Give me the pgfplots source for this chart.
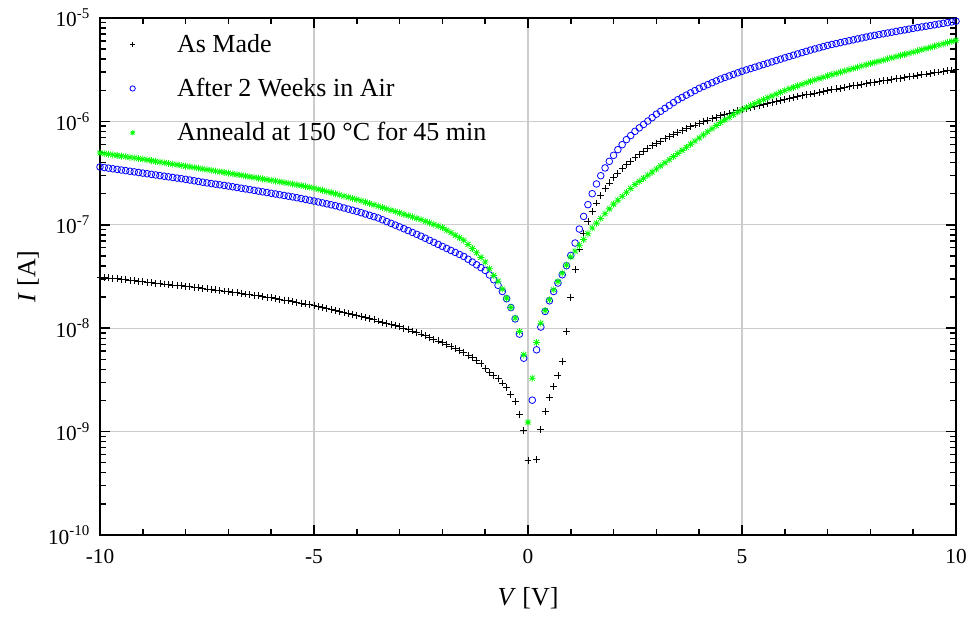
\documentclass[border=0pt]{standalone}
\usepackage{fontspec}
\setmainfont{Liberation Serif}
\usepackage{pgfplots}
\pgfplotsset{compat=1.18}
\makeatletter
\pgfdeclareplotmark{star8}{%
  \pgfpathmoveto{\pgfqpoint{-\pgfplotmarksize}{0pt}}\pgfpathlineto{\pgfqpoint{\pgfplotmarksize}{0pt}}%
  \pgfpathmoveto{\pgfqpoint{0pt}{-\pgfplotmarksize}}\pgfpathlineto{\pgfqpoint{0pt}{\pgfplotmarksize}}%
  \pgfpathmoveto{\pgfqpoint{-.707\pgfplotmarksize}{-.707\pgfplotmarksize}}\pgfpathlineto{\pgfqpoint{.707\pgfplotmarksize}{.707\pgfplotmarksize}}%
  \pgfpathmoveto{\pgfqpoint{-.707\pgfplotmarksize}{.707\pgfplotmarksize}}\pgfpathlineto{\pgfqpoint{.707\pgfplotmarksize}{-.707\pgfplotmarksize}}%
  \pgfusepathqstroke}
\makeatother
\definecolor{mygreen}{rgb}{0,1,0}
\definecolor{myblue}{rgb}{0,0,1}

\pgfplotstableread{
V I
-10.0 3.126e-8
-9.9 3.094e-8
-9.8 3.062e-8
-9.7 3.030e-8
-9.6 2.999e-8
-9.5 2.968e-8
-9.4 2.938e-8
-9.3 2.907e-8
-9.2 2.877e-8
-9.1 2.848e-8
-9.0 2.818e-8
-8.9 2.789e-8
-8.8 2.761e-8
-8.7 2.732e-8
-8.6 2.704e-8
-8.5 2.676e-8
-8.4 2.649e-8
-8.3 2.622e-8
-8.2 2.594e-8
-8.1 2.568e-8
-8.0 2.541e-8
-7.9 2.512e-8
-7.8 2.483e-8
-7.7 2.455e-8
-7.6 2.427e-8
-7.5 2.399e-8
-7.4 2.371e-8
-7.3 2.344e-8
-7.2 2.317e-8
-7.1 2.291e-8
-7.0 2.265e-8
-6.9 2.234e-8
-6.8 2.203e-8
-6.7 2.173e-8
-6.6 2.143e-8
-6.5 2.113e-8
-6.4 2.084e-8
-6.3 2.056e-8
-6.2 2.028e-8
-6.1 2.000e-8
-6.0 1.972e-8
-5.9 1.938e-8
-5.8 1.905e-8
-5.7 1.872e-8
-5.6 1.840e-8
-5.5 1.809e-8
-5.4 1.778e-8
-5.3 1.748e-8
-5.2 1.718e-8
-5.1 1.688e-8
-5.0 1.660e-8
-4.9 1.624e-8
-4.8 1.589e-8
-4.7 1.555e-8
-4.6 1.521e-8
-4.5 1.488e-8
-4.4 1.456e-8
-4.3 1.425e-8
-4.2 1.394e-8
-4.1 1.364e-8
-4.0 1.334e-8
-3.9 1.301e-8
-3.8 1.268e-8
-3.7 1.236e-8
-3.6 1.205e-8
-3.5 1.175e-8
-3.4 1.146e-8
-3.3 1.117e-8
-3.2 1.089e-8
-3.1 1.062e-8
-3.0 1.035e-8
-2.9 1.002e-8
-2.8 9.705e-9
-2.7 9.397e-9
-2.6 9.099e-9
-2.5 8.810e-9
-2.4 8.472e-9
-2.3 8.147e-9
-2.2 7.834e-9
-2.1 7.533e-9
-2.0 7.244e-9
-1.9 6.934e-9
-1.8 6.637e-9
-1.7 6.353e-9
-1.6 6.081e-9
-1.5 5.821e-9
-1.4 5.495e-9
-1.3 5.188e-9
-1.2 4.842e-9
-1.1 4.519e-9
-1.0 4.074e-9
-0.9 3.715e-9
-0.8 3.467e-9
-0.7 3.236e-9
-0.6 2.951e-9
-0.5 2.692e-9
-0.4 2.291e-9
-0.3 1.950e-9
-0.2 1.479e-9
-0.1 1.023e-9
0.0 5.248e-10
0.2 5.370e-10
0.3 1.054e-9
0.4 1.552e-9
0.5 2.153e-9
0.6 2.729e-9
0.7 3.459e-9
0.8 4.808e-9
0.9 9.226e-9
1.0 2.000e-8
1.1 3.673e-8
1.2 5.834e-8
1.3 8.204e-8
1.4 1.079e-7
1.5 1.349e-7
1.6 1.626e-7
1.7 1.914e-7
1.8 2.239e-7
1.9 2.541e-7
2.0 2.851e-7
2.1 3.162e-7
2.2 3.483e-7
2.3 3.802e-7
2.4 4.121e-7
2.5 4.467e-7
2.6 4.808e-7
2.7 5.129e-7
2.8 5.470e-7
2.9 5.808e-7
3.0 6.138e-7
3.1 6.457e-7
3.2 6.792e-7
3.3 7.129e-7
3.4 7.464e-7
3.5 7.816e-7
3.6 8.166e-7
3.7 8.511e-7
3.8 8.872e-7
3.9 9.226e-7
4.0 9.594e-7
4.1 9.954e-7
4.2 1.030e-6
4.3 1.067e-6
4.4 1.102e-6
4.5 1.135e-6
4.6 1.167e-6
4.7 1.199e-6
4.8 1.233e-6
4.9 1.268e-6
5.0 1.300e-6
5.1 1.330e-6
5.2 1.361e-6
5.3 1.393e-6
5.4 1.426e-6
5.5 1.459e-6
5.6 1.493e-6
5.7 1.528e-6
5.8 1.563e-6
5.9 1.600e-6
6.0 1.637e-6
6.1 1.669e-6
6.2 1.702e-6
6.3 1.736e-6
6.4 1.770e-6
6.5 1.805e-6
6.6 1.841e-6
6.7 1.877e-6
6.8 1.914e-6
6.9 1.952e-6
7.0 1.991e-6
7.1 2.025e-6
7.2 2.061e-6
7.3 2.097e-6
7.4 2.133e-6
7.5 2.170e-6
7.6 2.208e-6
7.7 2.246e-6
7.8 2.286e-6
7.9 2.325e-6
8.0 2.366e-6
8.1 2.401e-6
8.2 2.438e-6
8.3 2.475e-6
8.4 2.512e-6
8.5 2.550e-6
8.6 2.588e-6
8.7 2.627e-6
8.8 2.667e-6
8.9 2.707e-6
9.0 2.748e-6
9.1 2.789e-6
9.2 2.831e-6
9.3 2.874e-6
9.4 2.917e-6
9.5 2.961e-6
9.6 3.006e-6
9.7 3.051e-6
9.8 3.097e-6
9.9 3.144e-6
10.0 3.192e-6
}\asmade

\pgfplotstableread{
V I
-10.0 3.631e-7
-9.9 3.581e-7
-9.8 3.532e-7
-9.7 3.483e-7
-9.6 3.436e-7
-9.5 3.388e-7
-9.4 3.342e-7
-9.3 3.296e-7
-9.2 3.251e-7
-9.1 3.206e-7
-9.0 3.162e-7
-8.9 3.119e-7
-8.8 3.076e-7
-8.7 3.034e-7
-8.6 2.992e-7
-8.5 2.951e-7
-8.4 2.911e-7
-8.3 2.871e-7
-8.2 2.831e-7
-8.1 2.793e-7
-8.0 2.754e-7
-7.9 2.710e-7
-7.8 2.667e-7
-7.7 2.624e-7
-7.6 2.582e-7
-7.5 2.541e-7
-7.4 2.506e-7
-7.3 2.472e-7
-7.2 2.438e-7
-7.1 2.404e-7
-7.0 2.371e-7
-6.9 2.333e-7
-6.8 2.296e-7
-6.7 2.259e-7
-6.6 2.223e-7
-6.5 2.188e-7
-6.4 2.153e-7
-6.3 2.118e-7
-6.2 2.084e-7
-6.1 2.051e-7
-6.0 2.018e-7
-5.9 1.986e-7
-5.8 1.954e-7
-5.7 1.923e-7
-5.6 1.892e-7
-5.5 1.862e-7
-5.4 1.828e-7
-5.3 1.794e-7
-5.2 1.762e-7
-5.1 1.730e-7
-5.0 1.698e-7
-4.9 1.663e-7
-4.8 1.629e-7
-4.7 1.596e-7
-4.6 1.563e-7
-4.5 1.531e-7
-4.4 1.493e-7
-4.3 1.455e-7
-4.2 1.419e-7
-4.1 1.383e-7
-4.0 1.349e-7
-3.9 1.310e-7
-3.8 1.272e-7
-3.7 1.235e-7
-3.6 1.199e-7
-3.5 1.164e-7
-3.4 1.119e-7
-3.3 1.075e-7
-3.2 1.033e-7
-3.1 9.932e-8
-3.0 9.550e-8
-2.9 9.162e-8
-2.8 8.790e-8
-2.7 8.433e-8
-2.6 8.091e-8
-2.5 7.762e-8
-2.4 7.416e-8
-2.3 7.086e-8
-2.2 6.770e-8
-2.1 6.468e-8
-2.0 6.180e-8
-1.9 5.910e-8
-1.8 5.652e-8
-1.7 5.405e-8
-1.6 5.169e-8
-1.5 4.943e-8
-1.4 4.645e-8
-1.3 4.365e-8
-1.2 4.102e-8
-1.1 3.855e-8
-1.0 3.622e-8
-0.9 3.273e-8
-0.8 2.944e-8
-0.7 2.600e-8
-0.6 2.265e-8
-0.5 1.928e-8
-0.4 1.585e-8
-0.3 1.230e-8
-0.2 8.770e-9
-0.1 5.129e-9
0.1 2.014e-9
0.2 6.180e-9
0.3 1.026e-8
0.4 1.452e-8
0.5 1.841e-8
0.6 2.265e-8
0.7 2.735e-8
0.8 3.289e-8
0.9 4.018e-8
1.0 5.058e-8
1.1 6.668e-8
1.2 9.099e-8
1.3 1.205e-7
1.4 1.567e-7
1.5 2.000e-7
1.6 2.483e-7
1.7 2.985e-7
1.8 3.548e-7
1.9 4.111e-7
2.0 4.699e-7
2.1 5.333e-7
2.2 5.957e-7
2.3 6.668e-7
2.4 7.295e-7
2.5 8.017e-7
2.6 8.655e-7
2.7 9.341e-7
2.8 1.008e-6
2.9 1.088e-6
3.0 1.175e-6
3.1 1.253e-6
3.2 1.337e-6
3.3 1.426e-6
3.4 1.521e-6
3.5 1.622e-6
3.6 1.706e-6
3.7 1.795e-6
3.8 1.888e-6
3.9 1.986e-6
4.0 2.089e-6
4.1 2.178e-6
4.2 2.270e-6
4.3 2.366e-6
4.4 2.466e-6
4.5 2.570e-6
4.6 2.661e-6
4.7 2.754e-6
4.8 2.851e-6
4.9 2.951e-6
5.0 3.055e-6
5.1 3.148e-6
5.2 3.243e-6
5.3 3.342e-6
5.4 3.443e-6
5.5 3.548e-6
5.6 3.656e-6
5.7 3.767e-6
5.8 3.882e-6
5.9 4.000e-6
6.0 4.121e-6
6.1 4.242e-6
6.2 4.365e-6
6.3 4.493e-6
6.4 4.624e-6
6.5 4.759e-6
6.6 4.898e-6
6.7 5.023e-6
6.8 5.152e-6
6.9 5.284e-6
7.0 5.433e-6
7.1 5.546e-6
7.2 5.662e-6
7.3 5.781e-6
7.4 5.902e-6
7.5 6.026e-6
7.6 6.152e-6
7.7 6.281e-6
7.8 6.412e-6
7.9 6.546e-6
8.0 6.683e-6
8.1 6.800e-6
8.2 6.918e-6
8.3 7.039e-6
8.4 7.161e-6
8.5 7.286e-6
8.6 7.413e-6
8.7 7.542e-6
8.8 7.674e-6
8.9 7.807e-6
9.0 7.943e-6
9.1 8.070e-6
9.2 8.199e-6
9.3 8.329e-6
9.4 8.463e-6
9.5 8.598e-6
9.6 8.736e-6
9.7 8.876e-6
9.8 9.018e-6
9.9 9.165e-6
10.0 9.311e-6
}\afterair

\pgfplotstableread{
V I
-10.0 4.955e-7
-9.9 4.887e-7
-9.8 4.820e-7
-9.7 4.754e-7
-9.6 4.689e-7
-9.5 4.624e-7
-9.4 4.561e-7
-9.3 4.498e-7
-9.2 4.437e-7
-9.1 4.376e-7
-9.0 4.315e-7
-8.9 4.246e-7
-8.8 4.178e-7
-8.7 4.111e-7
-8.6 4.046e-7
-8.5 3.981e-7
-8.4 3.923e-7
-8.3 3.865e-7
-8.2 3.809e-7
-8.1 3.753e-7
-8.0 3.698e-7
-7.9 3.641e-7
-7.8 3.584e-7
-7.7 3.528e-7
-7.6 3.473e-7
-7.5 3.419e-7
-7.4 3.366e-7
-7.3 3.314e-7
-7.2 3.262e-7
-7.1 3.211e-7
-7.0 3.162e-7
-6.9 3.111e-7
-6.8 3.062e-7
-6.7 3.013e-7
-6.6 2.965e-7
-6.5 2.917e-7
-6.4 2.871e-7
-6.3 2.825e-7
-6.2 2.780e-7
-6.1 2.735e-7
-6.0 2.692e-7
-5.9 2.649e-7
-5.8 2.606e-7
-5.7 2.564e-7
-5.6 2.523e-7
-5.5 2.483e-7
-5.4 2.438e-7
-5.3 2.393e-7
-5.2 2.350e-7
-5.1 2.307e-7
-5.0 2.265e-7
-4.9 2.208e-7
-4.8 2.153e-7
-4.7 2.099e-7
-4.6 2.047e-7
-4.5 1.995e-7
-4.4 1.945e-7
-4.3 1.897e-7
-4.2 1.849e-7
-4.1 1.803e-7
-4.0 1.758e-7
-3.9 1.706e-7
-3.8 1.656e-7
-3.7 1.607e-7
-3.6 1.560e-7
-3.5 1.514e-7
-3.4 1.469e-7
-3.3 1.426e-7
-3.2 1.384e-7
-3.1 1.343e-7
-3.0 1.303e-7
-2.9 1.265e-7
-2.8 1.227e-7
-2.7 1.191e-7
-2.6 1.156e-7
-2.5 1.122e-7
-2.4 1.083e-7
-2.3 1.045e-7
-2.2 1.009e-7
-2.1 9.735e-8
-2.0 9.397e-8
-1.9 8.880e-8
-1.8 8.391e-8
-1.7 7.929e-8
-1.6 7.493e-8
-1.5 7.079e-8
-1.4 6.457e-8
-1.3 5.888e-8
-1.2 5.370e-8
-1.1 4.842e-8
-1.0 4.365e-8
-0.9 3.758e-8
-0.8 3.236e-8
-0.7 2.851e-8
-0.6 2.393e-8
-0.5 1.954e-8
-0.4 1.585e-8
-0.3 1.253e-8
-0.2 9.290e-9
-0.1 5.534e-9
0.0 1.233e-9
0.1 3.289e-9
0.2 7.278e-9
0.3 1.119e-8
0.4 1.483e-8
0.5 1.884e-8
0.6 2.355e-8
0.7 2.831e-8
0.8 3.412e-8
0.9 4.074e-8
1.0 4.898e-8
1.1 5.572e-8
1.2 6.339e-8
1.3 7.211e-8
1.4 8.204e-8
1.5 9.333e-8
1.6 1.038e-7
1.7 1.153e-7
1.8 1.282e-7
1.9 1.426e-7
2.0 1.585e-7
2.1 1.730e-7
2.2 1.888e-7
2.3 2.061e-7
2.4 2.249e-7
2.5 2.455e-7
2.6 2.630e-7
2.7 2.818e-7
2.8 3.020e-7
2.9 3.236e-7
3.0 3.467e-7
3.1 3.715e-7
3.2 3.981e-7
3.3 4.266e-7
3.4 4.571e-7
3.5 4.898e-7
3.6 5.248e-7
3.7 5.623e-7
3.8 6.026e-7
3.9 6.457e-7
4.0 6.918e-7
4.1 7.413e-7
4.2 7.943e-7
4.3 8.511e-7
4.4 9.120e-7
4.5 9.772e-7
4.6 1.035e-6
4.7 1.096e-6
4.8 1.161e-6
4.9 1.230e-6
5.0 1.300e-6
5.1 1.358e-6
5.2 1.419e-6
5.3 1.486e-6
5.4 1.552e-6
5.5 1.622e-6
5.6 1.690e-6
5.7 1.762e-6
5.8 1.837e-6
5.9 1.914e-6
6.0 1.995e-6
6.1 2.065e-6
6.2 2.133e-6
6.3 2.208e-6
6.4 2.286e-6
6.5 2.360e-6
6.6 2.443e-6
6.7 2.518e-6
6.8 2.594e-6
6.9 2.673e-6
7.0 2.754e-6
7.1 2.831e-6
7.2 2.911e-6
7.3 2.992e-6
7.4 3.076e-6
7.5 3.162e-6
7.6 3.251e-6
7.7 3.342e-6
7.8 3.436e-6
7.9 3.532e-6
8.0 3.631e-6
8.1 3.724e-6
8.2 3.819e-6
8.3 3.917e-6
8.4 4.018e-6
8.5 4.121e-6
8.6 4.227e-6
8.7 4.335e-6
8.8 4.446e-6
8.9 4.560e-6
9.0 4.677e-6
9.1 4.802e-6
9.2 4.932e-6
9.3 5.064e-6
9.4 5.200e-6
9.5 5.340e-6
9.6 5.483e-6
9.7 5.630e-6
9.8 5.781e-6
9.9 5.936e-6
10.0 6.095e-6
}\annealed

\begin{document}
\begin{tikzpicture}
\useasboundingbox (-75pt,-62.25pt) rectangle (653.25pt,401.25pt);
\begin{axis}[
  at={(0pt,0pt)}, anchor=south west,
  scale only axis, width=642pt, height=387.75pt,
  xmin=-10, xmax=10, ymin=1e-10, ymax=1e-5, ymode=log,
  xtick={-10,-5,0,5,10}, xticklabels={-10,-5,0,5,10},
  minor xtick={-9,-8,-7,-6,-4,-3,-2,-1,1,2,3,4,6,7,8,9},
  ytick={1e-10,1e-9,1e-8,1e-7,1e-6,1e-5},
  yticklabels={10\textsuperscript{-10},10\textsuperscript{-9},10\textsuperscript{-8},10\textsuperscript{-7},10\textsuperscript{-6},10\textsuperscript{-5}},
  minor ytick={2e-10,3e-10,4e-10,5e-10,6e-10,7e-10,8e-10,9e-10,
    2e-9,3e-9,4e-9,5e-9,6e-9,7e-9,8e-9,9e-9,
    2e-8,3e-8,4e-8,5e-8,6e-8,7e-8,8e-8,9e-8,
    2e-7,3e-7,4e-7,5e-7,6e-7,7e-7,8e-7,9e-7,
    2e-6,3e-6,4e-6,5e-6,6e-6,7e-6,8e-6,9e-6},
  tick align=inside, tick pos=both,
  major tick length=7.5pt, minor tick length=4.5pt,
  every tick/.style={black, line width=1.1pt},
  axis line style={line width=1.6pt},
  xmajorgrids, ymajorgrids,
  major grid style={black!20, line width=0.8pt},
  tick label style={font=\fontsize{16}{19}\selectfont},
  xticklabel style={yshift=-7pt},
  yticklabel style={xshift=-4pt},
  xlabel={\textit{V} [V]}, ylabel={\textit{I} [A]},
  label style={font=\fontsize{19.5}{23}\selectfont},
  xlabel style={at={(axis description cs:0.5,-0.122)}, anchor=center},
  ylabel style={at={(axis description cs:-0.084,0.5)}, anchor=center},
  legend style={at={(axis description cs:0,1)}, anchor=north west, xshift=16pt, yshift=-10pt,
    draw=none, fill=none, inner sep=0pt, row sep=14pt,
    font=\fontsize{19.5}{23}\selectfont, nodes={inner sep=2pt}},
  legend cell align=left,
  legend image code/.code={\path (-8pt,0pt) (31pt,0pt); \draw[#1, mark size=2pt] plot coordinates {(0pt,0pt)};},
]
\addplot[only marks, mark=+, mark size=2.6pt, black, line width=0.6pt] table[x=V,y=I] {\asmade};
\addlegendentry{As Made}
\addplot[only marks, mark=o, mark size=2.5pt, myblue, line width=0.6pt] table[x=V,y=I] {\afterair};
\addlegendentry{After 2 Weeks in Air}
\addplot[only marks, mark=star8, mark size=2.6pt, mygreen, line width=0.6pt] table[x=V,y=I] {\annealed};
\addlegendentry{Anneald at 150 °C for 45 min}
\end{axis}
\end{tikzpicture}
\end{document}
